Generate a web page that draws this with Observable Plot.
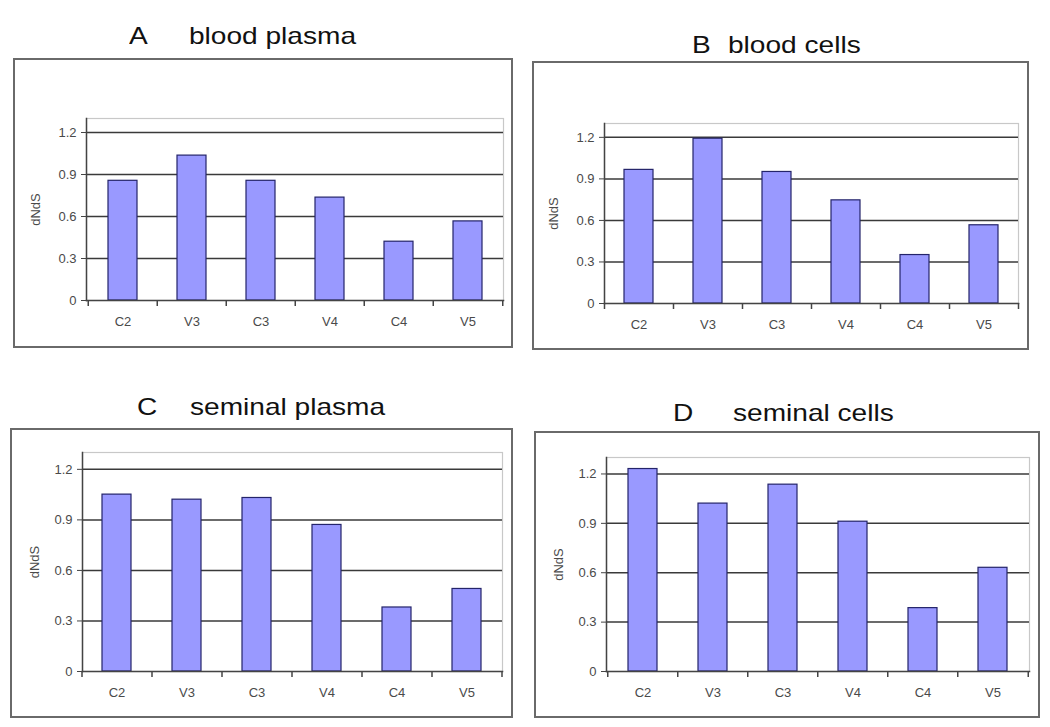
<!DOCTYPE html>
<html>
<head>
<meta charset="utf-8">
<script src="https://cdn.jsdelivr.net/npm/d3@7"></script>
<script src="https://cdn.jsdelivr.net/npm/@observablehq/plot@0.6"></script>
<style>
  html, body { margin: 0; padding: 0; background: #fff; }
  #page { position: relative; width: 1050px; height: 727px; overflow: hidden; font-family: "Liberation Sans", Arial, sans-serif; }
  .box { position: absolute; box-sizing: border-box; border: 2px solid #6a6a6a; }
  .ttl { position: absolute; font-size: 24px; line-height: 24px; color: #111; white-space: pre; transform-origin: 0 0; transform: scaleX(1.17); }
  .chart { position: absolute; }
  .chart svg { overflow: visible; }
</style>
</head>
<body>
<div id="page"></div>
<script>
// ---- data ----
const categories = ["C2", "V3", "C3", "V4", "C4", "V5"];
const bloodPlasma   = [0.855, 1.035, 0.855, 0.735, 0.42, 0.565];
const bloodCells    = [0.965, 1.19, 0.95, 0.745, 0.35, 0.565];
const seminalPlasma = [1.05, 1.02, 1.03, 0.87, 0.38, 0.49];
const seminalCells  = [1.23, 1.02, 1.135, 0.91, 0.385, 0.63];
const yTicks = [0, 0.3, 0.6, 0.9, 1.2];
const yLabel = "dNdS";
const panelLetters = ["A", "B", "C", "D"];
const panelNames = ["blood plasma", "blood cells", "seminal plasma", "seminal cells"];
const series = [bloodPlasma, bloodCells, seminalPlasma, seminalCells];

// ---- layout (page pixels) ----
const layout = [
  {left: 13,  top: 58,  w: 500, h: 290, ml: 73, mr: 10, mt: 60, mb: 48, lab: 56, letterX: 129, nameX: 189, base: 44},
  {left: 532, top: 61,  w: 497, h: 289, ml: 72, mr: 11, mt: 62, mb: 47, lab: 56, letterX: 692, nameX: 728, base: 53},
  {left: 10,  top: 428, w: 503, h: 290, ml: 72, mr: 11, mt: 24, mb: 47, lab: 53, letterX: 137, nameX: 190, base: 415},
  {left: 534, top: 431, w: 506, h: 287, ml: 72, mr: 11, mt: 26, mb: 47, lab: 53, letterX: 673, nameX: 733, base: 421}
];
const yMax = 1.3;
const xTickLen = 6;

const page = document.getElementById("page");

series.forEach((values, i) => {
  const L = layout[i];
  const data = categories.map((c, j) => ({cat: c, v: values[j]}));
  const plotW = L.w - L.ml - L.mr;
  const plotH = L.h - L.mt - L.mb;
  const step = plotW / categories.length;
  const tickDepth = -xTickLen * yMax / plotH; // tick length expressed in y units

  const box = document.createElement("div");
  box.className = "box";
  Object.assign(box.style, {left: L.left + "px", top: L.top + "px", width: L.w + "px", height: L.h + "px"});
  page.appendChild(box);

  // titles
  const baseOff = 0.8465 * 24;
  const t1 = document.createElement("div");
  t1.className = "ttl";
  t1.textContent = panelLetters[i];
  Object.assign(t1.style, {left: L.letterX + "px", top: (L.base - baseOff) + "px"});
  page.appendChild(t1);
  const t2 = document.createElement("div");
  t2.className = "ttl";
  t2.textContent = panelNames[i];
  Object.assign(t2.style, {left: L.nameX + "px", top: (L.base - baseOff) + "px"});
  page.appendChild(t2);

  const chart = Plot.plot({
    width: L.w,
    height: L.h,
    marginLeft: L.ml,
    marginRight: L.mr,
    marginTop: L.mt,
    marginBottom: L.mb,
    style: {fontFamily: "'Liberation Sans', Arial, sans-serif", fontSize: "13px", background: "transparent", overflow: "visible"},
    x: {domain: categories, paddingInner: 0.58, paddingOuter: 0.29, label: null},
    y: {domain: [0, yMax], label: null},
    marks: [
      Plot.frame({stroke: "#c8c8c8", strokeWidth: 1.2}),
      Plot.ruleY(yTicks.filter(d => d > 0), {stroke: "#3a3a3a", strokeWidth: 1.5}),
      Plot.barY(data, {x: "cat", y: "v", fill: "#9999ff", stroke: "#24246a", strokeWidth: 1.2}),
      Plot.frame({anchor: "left", stroke: "#444", strokeWidth: 1.5}),
      Plot.frame({anchor: "bottom", stroke: "#444", strokeWidth: 1.5}),
      Plot.axisY({
        ticks: yTicks, tickSize: 5, tickPadding: 5,
        tickFormat: d => d === 0 ? "0" : d.toFixed(1),
        stroke: "#444", fill: "#4a4a4a", fontSize: 13,
        label: yLabel, labelAnchor: "center", labelOffset: L.lab, labelArrow: "none"
      }),
      Plot.axisX({tickSize: 0, tickPadding: 16, fill: "#4a4a4a", fontSize: 13, label: null}),
      Plot.ruleX(categories, {x: d => d, dx: -step / 2, y1: () => 0, y2: () => tickDepth, stroke: "#444", strokeWidth: 1.5, clip: false}),
      Plot.ruleX(categories.slice(-1), {x: d => d, dx: step / 2, y1: () => 0, y2: () => tickDepth, stroke: "#444", strokeWidth: 1.5, clip: false})
    ]
  });
  const wrap = document.createElement("div");
  wrap.className = "chart";
  Object.assign(wrap.style, {left: L.left + "px", top: L.top + "px"});
  wrap.appendChild(chart);
  page.appendChild(wrap);
});
</script>
</body>
</html>
